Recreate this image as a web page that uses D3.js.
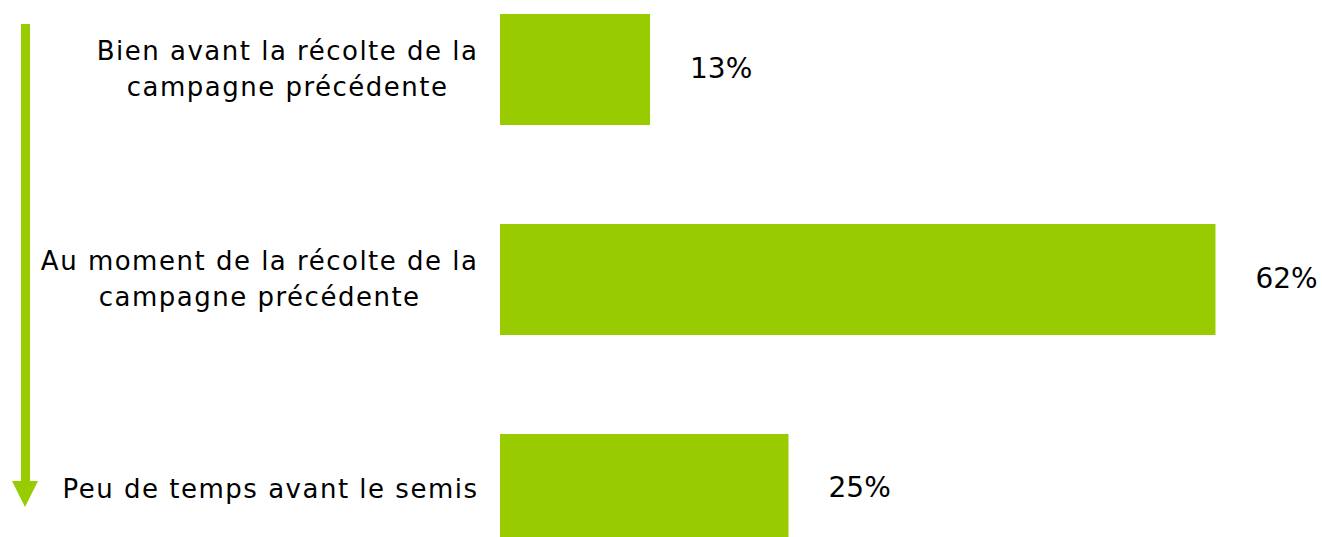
<!DOCTYPE html>
<html>
<head>
<meta charset="utf-8">
<script src="https://cdn.jsdelivr.net/npm/d3@7"></script>
<style>
  body { margin: 0; background: #fff; }
  text { font-family: "DejaVu Sans", Verdana, sans-serif; fill: #000; }
</style>
</head>
<body>
<div id="chart"></div>
<script>
var categories = [
  ["Bien avant la récolte de la", "campagne précédente"],
  ["Au moment de la récolte de la", "campagne précédente"],
  ["Peu de temps avant le semis"]
];
var values = [0.13, 0.62, 0.25];
var valueLabels = ["13%", "62%", "25%"];

var width = 1322, height = 537;
var green = "#99cc00";

var svg = d3.select("#chart")
  .append("svg")
    .attr("width", width)
    .attr("height", height);

var keys = categories.map(function(d) { return d.join(" "); });

var y = d3.scaleBand()
  .domain(keys)
  .range([14, 545])
  .paddingInner(0.4714)
  .paddingOuter(0);

var x = d3.scaleLinear()
  .domain([0, 1])
  .range([500, 1654]);

// arrow on the left
svg.append("rect")
  .attr("x", 21)
  .attr("y", 24)
  .attr("width", 9)
  .attr("height", 460)
  .attr("fill", green);
svg.append("path")
  .attr("d", "M12,481 L38,481 L25,507 Z")
  .attr("fill", green);

svg.selectAll("rect.bar")
  .data(values)
  .enter()
  .append("rect")
    .attr("class", "bar")
    .attr("x", x(0))
    .attr("y", function(d, i) { return y(keys[i]); })
    .attr("width", function(d) { return x(d) - x(0); })
    .attr("height", y.bandwidth())
    .attr("fill", green);

// category labels: block right-aligned, lines centred inside it
var lineH = 36, rightEdge = 478.5;
categories.forEach(function(lines, i) {
  var cy = y(keys[i]) + y.bandwidth() / 2;
  var first = cy + 8.5 - (lines.length - 1) * lineH / 2;
  var t = svg.append("text")
    .attr("text-anchor", "middle")
    .style("font-size", "26px")
    .style("letter-spacing", "1.5px");
  var spans = lines.map(function(l, j) {
    return t.append("tspan")
      .attr("y", first + j * lineH)
      .text(l);
  });
  var w = d3.max(spans, function(s) { return s.node().getComputedTextLength(); });
  spans.forEach(function(s) { s.attr("x", rightEdge - w / 2); });
});

// value labels
svg.selectAll("text.val")
  .data(values)
  .enter()
  .append("text")
    .attr("class", "val")
    .attr("x", function(d) { return x(d) + 40; })
    .attr("y", function(d, i) { return y(keys[i]) + y.bandwidth() / 2 + 8; })
    .style("font-size", "28px")
    .text(function(d, i) { return valueLabels[i]; });
</script>
</body>
</html>
